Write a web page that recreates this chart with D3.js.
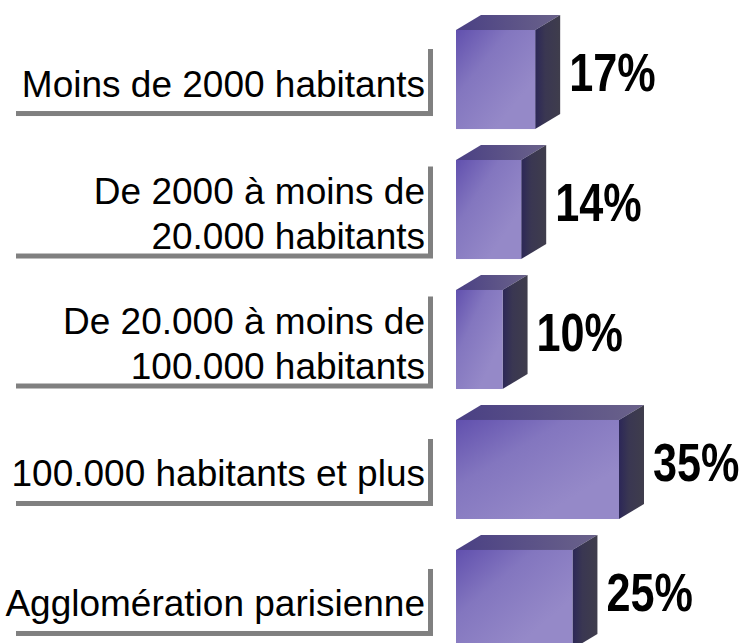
<!DOCTYPE html>
<html>
<head>
<meta charset="utf-8">
<script src="https://cdn.jsdelivr.net/npm/d3@7"></script>
<style>
  html, body { margin: 0; padding: 0; background: #fff; }
  svg { display: block; }
</style>
</head>
<body>
<svg id="chart"></svg>
<script>
const categories = [
  'Moins de 2000 habitants',
  'De 2000 à moins de 20.000 habitants',
  'De 20.000 à moins de 100.000 habitants',
  '100.000 habitants et plus',
  'Agglomération parisienne'
];
const labelLines = [
  ['Moins de 2000 habitants'],
  ['De 2000 à moins de', '20.000 habitants'],
  ['De 20.000 à moins de', '100.000 habitants'],
  ['100.000 habitants et plus'],
  ['Agglomération parisienne']
];
const values = [17, 14, 10, 35, 25];

const width = 746;
const height = 643;
const depthX = 25;
const depthY = 15;

const svg = d3.select('#chart')
  .attr('width', width)
  .attr('height', height);

const defs = svg.append('defs');

const frontGrad = defs.append('linearGradient')
  .attr('id', 'front')
  .attr('x1', 0).attr('y1', 0)
  .attr('x2', 0.75).attr('y2', 0.75);
frontGrad.append('stop').attr('offset', 0).attr('stop-color', '#6150ae');
frontGrad.append('stop').attr('offset', 0.45).attr('stop-color', '#8376bf');
frontGrad.append('stop').attr('offset', 1).attr('stop-color', '#9589c8');

const topGrad = defs.append('linearGradient')
  .attr('id', 'topface')
  .attr('x1', 0).attr('y1', 0).attr('x2', 1).attr('y2', 0);
topGrad.append('stop').attr('offset', 0).attr('stop-color', '#4a4084');
topGrad.append('stop').attr('offset', 1).attr('stop-color', '#6a628a');

const sideGrad = defs.append('linearGradient')
  .attr('id', 'side')
  .attr('x1', 0).attr('y1', 0).attr('x2', 1).attr('y2', 0);
sideGrad.append('stop').attr('offset', 0).attr('stop-color', '#2c2758');
sideGrad.append('stop').attr('offset', 0.4).attr('stop-color', '#3a3752');
sideGrad.append('stop').attr('offset', 1).attr('stop-color', '#3f3d4c');

const x = d3.scaleLinear()
  .domain([0, 35])
  .range([456, 619]);

const y = d3.scaleBand()
  .domain(categories)
  .range([30, 649])
  .paddingInner(0.238)
  .paddingOuter(0);

const rows = categories.map((c, i) => ({
  category: c,
  lines: labelLines[i],
  value: values[i]
}));

// label boxes on the left
svg.append('g')
  .selectAll('.label')
  .data(rows)
  .enter()
  .append('g')
  .attr('class', 'label')
  .each(function (d) {
    const g = d3.select(this);
    const textCenter = y(d.category) + y.bandwidth() / 2 + 3;
    const boxH = d.lines.length === 1 ? 67 : 92;
    const boxTop = textCenter - 5 - boxH / 2;

    g.append('rect')
      .attr('x', 16)
      .attr('y', boxTop + 5)
      .attr('width', 417)
      .attr('height', boxH)
      .attr('fill', '#808080');

    g.append('rect')
      .attr('x', 11)
      .attr('y', boxTop)
      .attr('width', 417)
      .attr('height', boxH)
      .attr('fill', '#fff');

    const lineGap = 45;
    d.lines.forEach((line, j) => {
      g.append('text')
        .attr('x', 425)
        .attr('y', textCenter + 14 + (j - (d.lines.length - 1) / 2) * lineGap)
        .attr('text-anchor', 'end')
        .attr('font-family', '"Liberation Sans", Arial, sans-serif')
        .attr('font-size', 37)
        .attr('fill', '#000')
        .text(line);
    });
  });

// 3d bars
svg.append('g')
  .selectAll('.bar')
  .data(rows)
  .enter()
  .append('g')
  .attr('class', 'bar')
  .each(function (d) {
    const g = d3.select(this);
    const x0 = x(0);
    const x1 = x(d.value);
    const y0 = y(d.category);
    const y1 = y0 + y.bandwidth();

    g.append('path')
      .attr('d', `M${x0},${y0}L${x0 + depthX},${y0 - depthY}L${x1 + depthX},${y0 - depthY}L${x1},${y0}Z`)
      .attr('fill', 'url(#topface)');

    g.append('path')
      .attr('d', `M${x1},${y0}L${x1 + depthX},${y0 - depthY}L${x1 + depthX},${y1 - depthY}L${x1},${y1}Z`)
      .attr('fill', 'url(#side)');

    g.append('rect')
      .attr('x', x0)
      .attr('y', y0)
      .attr('width', x1 - x0)
      .attr('height', y1 - y0)
      .attr('fill', 'url(#front)');

    // narrow bold look: squeeze Liberation Sans Bold horizontally
    g.append('text')
      .attr('transform', `translate(${x1 + depthX + 9},${(y0 - depthY + y1) / 2 + 19}) scale(0.8,1)`)
      .attr('font-family', '"Liberation Sans", Arial, sans-serif')
      .attr('font-weight', 'bold')
      .attr('font-size', 54)
      .attr('fill', '#000')
      .text(d.value + '%');
  });
</script>
</body>
</html>
